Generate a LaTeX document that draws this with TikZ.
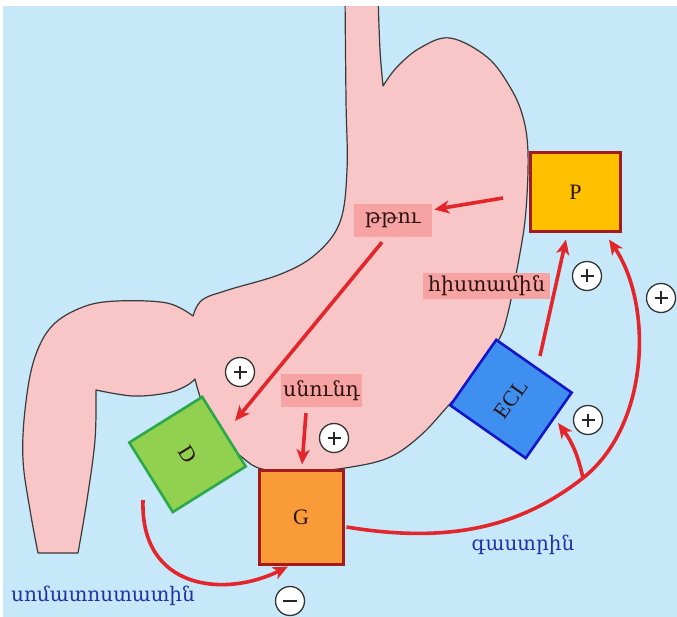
\documentclass[tikz,border=0pt]{standalone}
\usepackage{fontspec}
\setmainfont{Liberation Serif}
\newfontfamily\armfont{DejaVu Serif}
\usetikzlibrary{arrows.meta,calc}

\definecolor{bgblue}{HTML}{C6E8F8}
\definecolor{stomach}{HTML}{F8C6C6}
\definecolor{tagpink}{HTML}{F7A3A3}
\definecolor{arrowred}{HTML}{E3262B}
\definecolor{boxred}{HTML}{A51A1A}
\definecolor{pfill}{HTML}{FFC000}
\definecolor{gfill}{HTML}{F99B38}
\definecolor{dfill}{HTML}{92D050}
\definecolor{dedge}{HTML}{2AA84A}
\definecolor{eclfill}{HTML}{3F8FF0}
\definecolor{ecledge}{HTML}{1414C8}
\definecolor{hormblue}{HTML}{2032A8}
\definecolor{outline}{HTML}{3A3A3A}
\definecolor{inktext}{HTML}{2B1410}
\definecolor{ringgray}{HTML}{333333}

\begin{document}
\begin{tikzpicture}[x=1pt,y=-1pt,
  cell/.style={rectangle, line width=3pt, inner sep=0pt, text=inktext,
    font=\fontsize{22}{26}\selectfont},
  tag/.style={rectangle, fill=tagpink, inner sep=0pt, text=inktext,
    font=\armfont\fontsize{20.5}{24}\selectfont},
  hormone/.style={inner sep=0pt, text=hormblue,
    font=\armfont\fontsize{20}{24}\selectfont},
  arr/.style={draw=arrowred, line width=3.6pt,
    -{Stealth[length=15pt,width=13pt,inset=4pt]}},
  sign/.style={circle, draw=ringgray, fill=white, line width=1.3pt,
    minimum size=29pt, inner sep=0pt},
  plus/.style={sign, path picture={
    \draw[line width=1.6pt, black!85]
      (path picture bounding box.center) +(-6.5,0) -- +(6.5,0)
      (path picture bounding box.center) +(0,-6.5) -- +(0,6.5);}},
  minus/.style={sign, path picture={
    \draw[line width=1.6pt, black!85]
      (path picture bounding box.center) +(-7,0) -- +(7,0);}}
]
\useasboundingbox (0,0) rectangle (677,617);

% background
\fill[bgblue] (0,0) rectangle (677,617);

% stomach, oesophagus and duodenum
\path[fill=stomach, draw=outline, line width=1.2pt, line join=round]
  plot[smooth, tension=0.6] coordinates {(345,-4) (346,100) (347,170) (340,222)
      (316,254) (281,274) (228,290) (202,300) (193,316)}
  -- plot[smooth, tension=0.6] coordinates {(193,316) (167,303) (117,301) (83,307)
      (52,326) (34,360) (25,410) (23,460) (30,510) (38,553)}
  -- (78,553)
  -- plot[smooth, tension=0.6] coordinates {(78,553) (87,500) (95,440) (96,390)}
  -- plot[smooth, tension=0.6] coordinates {(96,390) (133,396) (167,393) (186,386) (195,379)}
  -- plot[smooth, tension=0.6] coordinates {(195,379) (203,404) (222,437) (243,458)
      (262,469) (300,472) (345,468) (388,458) (420,436) (448,406) (475,376)
      (497,343) (507,317) (520,253) (526,210) (528,153) (523,117) (510,87)
      (487,57) (450,38) (420,48) (397,67) (383,86)}
  -- plot[smooth, tension=0.6] coordinates {(383,86) (380,50) (378,-4)}
  -- cycle;

% paper margin
\fill[white] (0,0) rectangle (677,6);
\fill[white] (0,0) rectangle (3,617);

% cells
\node[cell, fill=pfill, draw=boxred, minimum width=90, minimum height=79]
  (P) at (575.5,192.5) {P};
\node[cell, fill=gfill, draw=boxred, minimum width=84, minimum height=94]
  (G) at (301,517) {G};
\node[cell, fill=dfill, draw=dedge, line width=2.6pt, rotate=-58,
  minimum width=82, minimum height=86] (D) at (187.5,454.5) {D};
\node[cell, fill=eclfill, draw=ecledge, line width=2.6pt, rotate=55,
  minimum width=80, minimum height=92] (ECL) at (511,399) {ECL};

% labels
\node[tag, minimum width=78, minimum height=33] (acid) at (393,220.5) {թթու};
\node[tag, minimum width=127, minimum height=26] (hist) at (486.5,286) {հիստամին};
\node[tag, minimum width=81, minimum height=33] (food) at (321.5,390.5) {սնունդ};
\node[hormone] (gastrin) at (523,545) {գաստրին};
\node[hormone] (somato) at (103,596) {սոմատոստատին};

% free ends of the connectors
\coordinate (pOut) at (503,198);
\coordinate (eclOut) at (540,356);
\coordinate (dOut) at (143,500);
\coordinate (dIn) at (235,421);
\coordinate (eclIn) at (558,423);
\coordinate (fork) at (583,478);

% connectors
\draw[arr] (pOut) -- ($(acid.east)+(2,-11)$);
\draw[arr] ($(acid.south)+(-11,5)$) -- (dIn);
\draw[arr] ($(food.south)+(-15.5,6)$) -- ($(G.north)+(1,-4)$);
\draw[arr] (eclOut) -- ($(P.south)+(-9.5,6)$);
\draw[draw=arrowred, line width=3.6pt]
  ($(G.east)+(2,10)$) .. controls (455,545) and (524,524) .. (fork);
\draw[arr] (fork) .. controls (650,425) and (653,304) .. ($(P.south east)+(-13,6)$);
\draw[arr] (fork) to[bend right=12] (eclIn);
\draw[arr] (dOut) .. controls (140,590) and (225,598) .. ($(G.south)+(-13,1)$);

% signs
\node[plus] (s1) at (240,372) {};
\node[plus] (s2) at (334,438) {};
\node[plus] (s3) at (587,276) {};
\node[plus] (s4) at (661,298) {};
\node[plus] (s5) at (588,420) {};
\node[minus] (s6) at (290,601) {};
\end{tikzpicture}
\end{document}
